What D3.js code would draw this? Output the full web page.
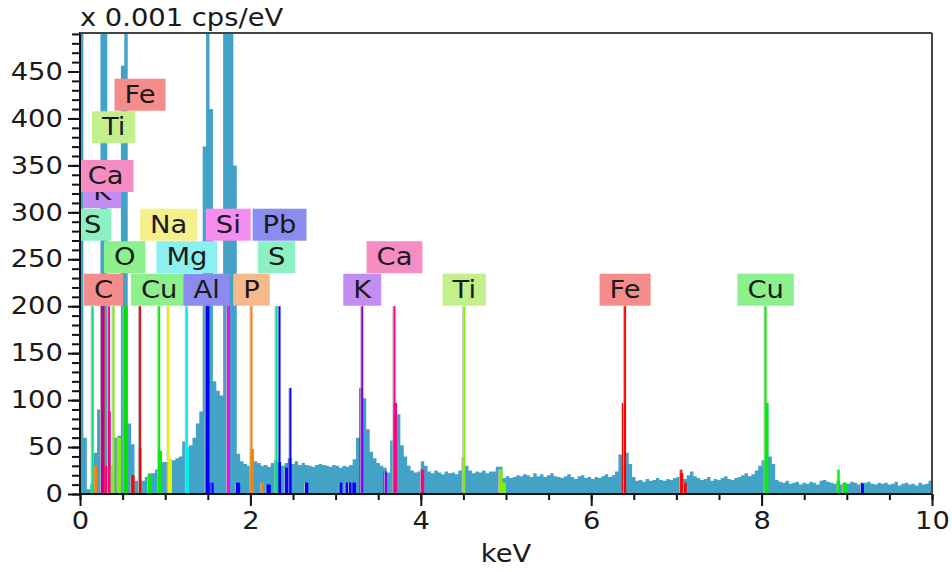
<!DOCTYPE html>
<html>
<head>
<meta charset="utf-8">
<script src="https://cdn.jsdelivr.net/npm/d3@7"></script>
<style>
  body { margin: 0; background: #fff; }
  text { font-family: "DejaVu Sans", Verdana, sans-serif; }
</style>
</head>
<body>
<svg id="chart" width="952" height="572"></svg>
<script>
// spectrum: counts per 0.04 keV channel (x 0.001 cps/eV), from 0 to 10 keV
var binWidth = 0.04;
var counts = [
  600, 60, 5, 10, 44, 90, 600, 600, 88, 30,
  60, 62, 456, 600, 75, 53, 14, 49, 14, 18,
  22, 22, 26, 46, 34, 34, 37, 36, 38, 40,
  56, 50, 52, 60, 75, 88, 370, 600, 410, 120,
  110, 105, 600, 600, 600, 350, 43, 35, 32, 30,
  48, 35, 33, 30, 31, 29, 33, 36, 34, 30,
  33, 38, 32, 35, 31, 33, 31, 30, 29, 31,
  32, 31, 30, 29, 31, 30, 28, 30, 29, 31,
  37, 60, 113, 102, 69, 45, 38, 33, 30, 28,
  23, 57, 97, 85, 52, 40, 30, 25, 23, 24,
  35, 30, 24, 22, 25, 23, 21, 24, 22, 23,
  21, 25, 39, 30, 25, 22, 24, 23, 25, 22,
  24, 24, 29, 29, 17, 19, 17, 18, 20, 19,
  21, 20, 18, 22, 19, 21, 18, 20, 22, 19,
  18, 17, 19, 21, 18, 16, 19, 20, 17, 18,
  16, 18, 17, 19, 21, 18, 20, 24, 42, 97,
  44, 32, 18, 14, 15, 13, 16, 14, 15, 17,
  15, 14, 16, 15, 17, 18, 22, 16, 20, 24,
  19, 17, 15, 16, 18, 14, 16, 15, 17, 19,
  16, 15, 17, 18, 20, 22, 19, 21, 25, 30,
  36, 97, 40, 32, 15, 13, 12, 14, 11, 12,
  13, 10, 12, 11, 13, 12, 10, 14, 15, 13,
  12, 11, 14, 10, 12, 11, 13, 12, 10, 11,
  12, 13, 11, 10, 12, 11, 12, 10, 11, 13,
  9, 11, 12, 10, 11, 9, 12, 10, 11, 14
];

// element line markers
var markerElement = ['S', 'P', 'K', 'C', 'Ca', 'Ca', 'Ti', 'Ti', 'O', 'Fe', 'Fe', 'Cu', 'Cu', 'Na',
  'Mg', 'Al', 'Al', 'Si', 'Pb', 'P', 'P', 'Pb', 'S', 'Pb', 'Pb', 'Pb', 'Pb', 'Pb', 'Pb', 'Pb', 'Pb',
  'K', 'K', 'Ca', 'Ca', 'Ti', 'Ti', 'Ti', 'Fe', 'Fe', 'Fe', 'Cu', 'Cu', 'Cu', 'Pb'];
var markerEnergy = [0.149, 0.183, 0.260, 0.277, 0.302, 0.341, 0.395, 0.452, 0.525, 0.615, 0.705, 0.811, 0.930, 1.041,
  1.254, 1.486, 1.557, 1.740, 1.841, 2.013, 2.139, 2.200, 2.307, 2.342, 2.420, 2.470, 2.653, 3.060, 3.130, 3.170, 3.210,
  3.313, 3.590, 3.691, 4.012, 4.510, 4.931, 4.962, 6.398, 7.057, 7.100, 8.047, 8.905, 8.970, 9.180];
var markerHeight = [200, 30, 200, 200, 30, 200, 200, 60, 200, 20, 200, 20, 200, 200,
  200, 200, 12, 200, 12, 200, 12, 10, 200, 200, 28, 113, 12, 12, 12, 12, 12,
  200, 24, 200, 26, 200, 26, 12, 200, 26, 12, 200, 26, 12, 12];

// element labels
var labelText = ['C', 'Cu', 'Al', 'P', 'K', 'Ti', 'Fe', 'Cu', 'O', 'Mg', 'S', 'Ca', 'S', 'Na', 'Si', 'Pb',
  'K', 'Ca', 'Ti', 'Fe'];
var labelEnergy = [0.277, 0.930, 1.486, 2.013, 3.313, 4.510, 6.398, 8.047, 0.525, 1.254, 2.307, 3.691,
  0.149, 1.041, 1.740, 2.342, 0.260, 0.300, 0.395, 0.705];
var labelRow = [0, 0, 0, 0, 0, 0, 0, 0, 1, 1, 1, 1, 2, 2, 2, 2, 3, 3.5, 5, 6];

var xTicksMajor = [0, 2, 4, 6, 8, 10];
var yTicksMajor = [0, 50, 100, 150, 200, 250, 300, 350, 400, 450];

var lineColor = {
  C: '#ff0000', O: '#00e000', Na: '#f0f000', Mg: '#00f0f0', Al: '#0000ff', Si: '#ff00ff',
  P: '#ff8000', S: '#00e080', K: '#8000ff', Ca: '#ff0080', Ti: '#80f000', Fe: '#ff0000',
  Cu: '#00f000', Pb: '#0000ff'
};
var boxColor = {
  C: '#f58c8c', O: '#8cf08c', Na: '#f5f08c', Mg: '#8cf0f0', Al: '#8c8cf0', Si: '#f58cf0',
  P: '#f5b98c', S: '#8cf0c3', K: '#c38cf0', Ca: '#f58cc3', Ti: '#c3f08c', Fe: '#f58c8c',
  Cu: '#8cf08c', Pb: '#8c8cf0'
};

var W = 952, H = 572;
var mLeft = 80, mRight = 932, mTop = 33, mBottom = 494;
var stretch = 'scale(1.14,1)';   // the original font is a little wider than DejaVu

var svg = d3.select('#chart');
svg.append('rect').attr('width', W).attr('height', H).attr('fill', '#fff');

var x = d3.scaleLinear().domain([0, 10]).range([mLeft, mRight]);
var y = d3.scaleLinear().domain([0, 491]).range([mBottom, mTop]);

svg.append('defs').append('clipPath').attr('id', 'plot')
  .append('rect').attr('x', mLeft).attr('y', mTop).attr('width', mRight - mLeft).attr('height', mBottom - mTop);

var plot = svg.append('g').attr('clip-path', 'url(#plot)');

// spectrum as one stepped area
var pts = counts.map((c, i) => [i * binWidth, c]);
pts.push([counts.length * binWidth, counts[counts.length - 1]]);
var area = d3.area()
  .curve(d3.curveStepAfter)
  .x(d => x(d[0]))
  .y0(y(0) - 1)
  .y1(d => y(d[1]));
plot.append('path').datum(pts).attr('d', area).attr('fill', '#42a3c7');

var markers = markerEnergy.map((e, i) => ({ el: markerElement[i], e: e, h: markerHeight[i] }));

// channel under each line coloured with the element colour
plot.selectAll('rect.fill')
  .data(markers)
  .enter()
  .append('rect')
  .attr('x', d => x(Math.floor(d.e / binWidth) * binWidth))
  .attr('width', x(binWidth) - x(0))
  .attr('y', d => y(Math.min(d.h, counts[Math.floor(d.e / binWidth)])))
  .attr('height', d => y(0) - y(Math.min(d.h, counts[Math.floor(d.e / binWidth)])) - 1)
  .attr('fill', d => lineColor[d.el]);

// marker lines
plot.selectAll('line.shade')
  .data(markers)
  .enter()
  .append('line')
  .attr('x1', d => x(d.e) - 1.5).attr('x2', d => x(d.e) - 1.5)
  .attr('y1', y(0) - 1).attr('y2', d => y(d.h))
  .attr('stroke', '#b8b8b8').attr('stroke-width', 1);

plot.selectAll('line.mark')
  .data(markers)
  .enter()
  .append('line')
  .attr('x1', d => x(d.e)).attr('x2', d => x(d.e))
  .attr('y1', y(0) - 1).attr('y2', d => y(d.h))
  .attr('stroke', d => lineColor[d.el]).attr('stroke-width', 2);

// labels
var rowH = 32.5;
var labels = labelText.map((t, i) => ({ t: t, e: labelEnergy[i], row: labelRow[i] }));
var lg = plot.selectAll('g.label')
  .data(labels)
  .enter()
  .append('g')
  .attr('transform', d => 'translate(' + x(d.e) + ',' + (y(200) - rowH * (d.row + 1)) + ')');

lg.append('text')
  .attr('text-anchor', 'middle')
  .attr('y', 24)
  .attr('transform', stretch)
  .style('font-size', '24px')
  .attr('fill', '#1a1a1a')
  .text(d => d.t);

lg.each(function(d) {
  var g = d3.select(this);
  var w = g.select('text').node().getComputedTextLength() * 1.14 + 20;
  g.insert('rect', 'text')
    .attr('x', -w / 2).attr('y', 0)
    .attr('width', w).attr('height', 32)
    .attr('fill', boxColor[d.t]);
});

// axes
var axisColor = '#111';
var yMinor = svg.append('g').attr('transform', 'translate(' + mLeft + ',0)')
  .call(d3.axisLeft(y).tickValues(d3.range(0, 491, 10)).tickSize(8).tickFormat(''));
var yMajor = svg.append('g').attr('transform', 'translate(' + mLeft + ',0)')
  .call(d3.axisLeft(y).tickValues(yTicksMajor).tickSize(12).tickPadding(3));
var xMinor = svg.append('g').attr('transform', 'translate(0,' + mBottom + ')')
  .call(d3.axisBottom(x).tickValues(d3.range(0, 10.01, 0.5)).tickSize(6).tickFormat(''));
var xMajor = svg.append('g').attr('transform', 'translate(0,' + mBottom + ')')
  .call(d3.axisBottom(x).tickValues(xTicksMajor).tickSize(12).tickPadding(6).tickFormat(d3.format('d')));

[yMinor, yMajor, xMinor, xMajor].forEach(a => {
  a.select('.domain').remove();
  a.selectAll('line').attr('stroke', axisColor).attr('stroke-width', 2);
  a.selectAll('text').attr('fill', '#1a1a1a').style('font-size', '24px')
    .attr('font-family', null).attr('transform', stretch);
});

// frame
svg.append('line').attr('x1', mLeft).attr('x2', mLeft).attr('y1', mTop - 1).attr('y2', mBottom + 1)
  .attr('stroke', axisColor).attr('stroke-width', 2);
svg.append('line').attr('x1', mLeft - 1).attr('x2', mRight + 1).attr('y1', mBottom).attr('y2', mBottom)
  .attr('stroke', axisColor).attr('stroke-width', 2);
svg.append('line').attr('x1', mLeft).attr('x2', mRight).attr('y1', mTop).attr('y2', mTop)
  .attr('stroke', '#444').attr('stroke-width', 2);
svg.append('line').attr('x1', mRight).attr('x2', mRight).attr('y1', mTop).attr('y2', mBottom)
  .attr('stroke', '#444').attr('stroke-width', 2);

// titles
svg.append('text')
  .attr('transform', 'translate(' + mLeft + ',26) ' + stretch)
  .style('font-size', '24px').attr('fill', '#1a1a1a')
  .text('x 0.001 cps/eV');

svg.append('text')
  .attr('transform', 'translate(' + ((mLeft + mRight) / 2) + ',562) ' + stretch)
  .attr('text-anchor', 'middle')
  .style('font-size', '24px').attr('fill', '#1a1a1a')
  .text('keV');
</script>
</body>
</html>
